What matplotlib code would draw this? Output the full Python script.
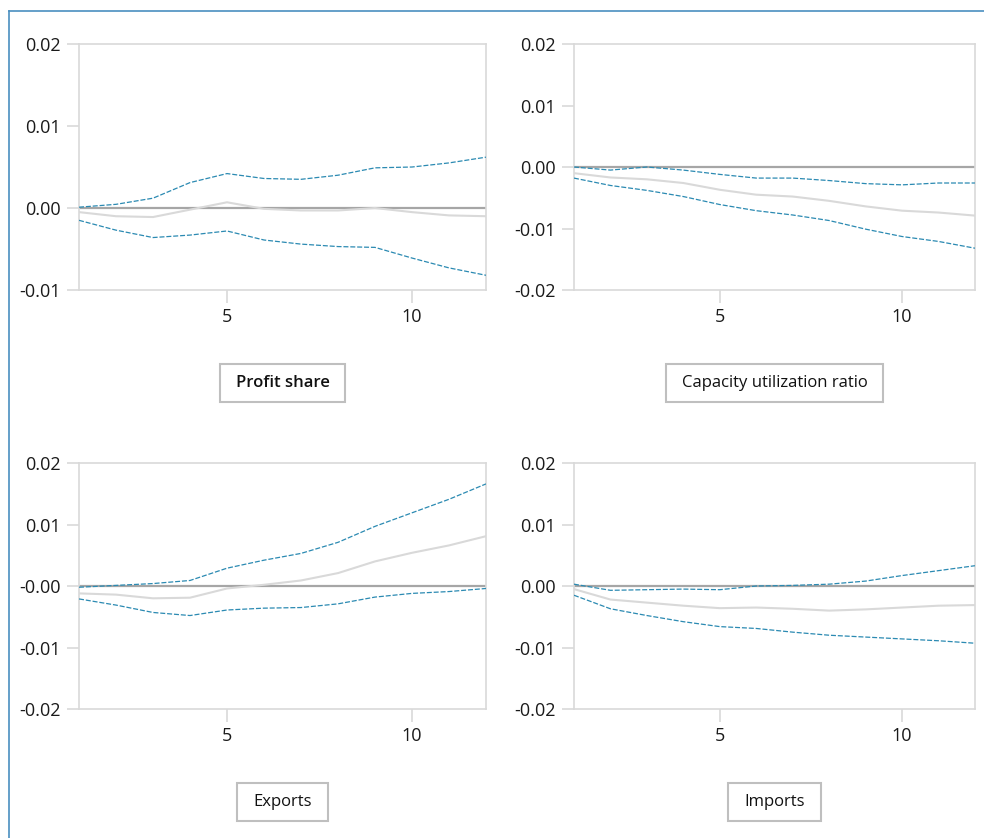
import numpy as np
import matplotlib.pyplot as plt
from matplotlib.lines import Line2D
from matplotlib.patches import Rectangle

plt.rcParams['font.family'] = ['Open Sans', 'DejaVu Sans']

# horizon (quarters)
periods = np.arange(1, 13)

# Profit share
profit_upper = [0.0001, 0.00045, 0.0012, 0.0031, 0.0042, 0.0036, 0.0035, 0.0040, 0.0049, 0.0050, 0.0055, 0.0062]
profit_mid = [-0.0005, -0.0010, -0.0011, -0.0002, 0.0007, -0.0001, -0.0003, -0.0003, 0.0000, -0.0005, -0.0009, -0.0010]
profit_lower = [-0.0015, -0.0027, -0.0036, -0.0033, -0.0028, -0.0039, -0.0044, -0.0047, -0.0048, -0.0061, -0.0073, -0.0082]

# Capacity utilization ratio
capu_upper = [0.0, -0.0005, 0.0, -0.0005, -0.0012, -0.0018, -0.0018, -0.0022, -0.0027, -0.0029, -0.0026, -0.0026]
capu_mid = [-0.0010, -0.0017, -0.0020, -0.0026, -0.0037, -0.0045, -0.0048, -0.0055, -0.0064, -0.0071, -0.0074, -0.0079]
capu_lower = [-0.0018, -0.0030, -0.0038, -0.0048, -0.0061, -0.0071, -0.0078, -0.0087, -0.0101, -0.0113, -0.0121, -0.0132]

# Exports
exp_upper = [-0.0002, 0.0001, 0.0004, 0.0009, 0.0029, 0.0042, 0.0053, 0.0071, 0.0097, 0.0119, 0.0141, 0.0166]
exp_mid = [-0.0012, -0.0014, -0.0020, -0.0019, -0.0004, 0.0002, 0.0009, 0.0021, 0.0040, 0.0054, 0.0066, 0.0081]
exp_lower = [-0.0021, -0.0031, -0.0043, -0.0048, -0.0039, -0.0036, -0.0035, -0.0029, -0.0018, -0.0012, -0.0009, -0.0004]

# Imports
imp_upper = [0.0003, -0.0007, -0.0006, -0.0005, -0.0006, 0.0000, 0.0001, 0.0003, 0.0008, 0.0017, 0.0025, 0.0033]
imp_mid = [-0.0005, -0.0022, -0.0027, -0.0032, -0.0036, -0.0035, -0.0037, -0.0040, -0.0038, -0.0035, -0.0032, -0.0031]
imp_lower = [-0.0015, -0.0037, -0.0048, -0.0058, -0.0066, -0.0069, -0.0075, -0.0080, -0.0083, -0.0086, -0.0089, -0.0093]

titles = ['Profit share', 'Capacity utilization ratio', 'Exports', 'Imports']
ticks_a = [0.02, 0.01, 0.0, -0.01]
labels_a = ['0.02', '0.01', '0.00', '-0.01']
ticks_b = [0.02, 0.01, 0.0, -0.01, -0.02]
labels_b = ['0.02', '0.01', '0.00', '-0.01', '-0.02']
labels_c = ['0.02', '0.01', '-0.00', '-0.01', '-0.02']

panels = [
    (profit_upper, profit_mid, profit_lower, ticks_a, labels_a),
    (capu_upper, capu_mid, capu_lower, ticks_b, labels_b),
    (exp_upper, exp_mid, exp_lower, ticks_b, labels_c),
    (imp_upper, imp_mid, imp_lower, ticks_b, labels_b),
]

# axes boxes in figure fractions
lefts = [0.0803, 0.5833, 0.0803, 0.5833]
widths = [0.4136, 0.4075, 0.4136, 0.4075]
bottoms = [0.6539, 0.6539, 0.1539, 0.1539]
height = 0.2936
label_y = [0.543, 0.543, 0.043, 0.043]

blue = '#2b8ab2'
spine_c = '#d9d9d9'
W, H = 984, 838

fig = plt.figure(figsize=(9.84, 8.38), dpi=100)

label_texts = []
for i, (up, mid, lo, ticks, tlabels) in enumerate(panels):
    ax = fig.add_axes([lefts[i], bottoms[i], widths[i], height])
    ax.axhline(0, color='#a6a6a6', lw=1.6, zorder=1)
    ax.plot(periods, mid, color='#d9d9d9', lw=1.5, zorder=2)
    ax.plot(periods, up, color=blue, lw=0.9, dashes=(4, 1.5), zorder=3)
    ax.plot(periods, lo, color=blue, lw=0.9, dashes=(4, 1.5), zorder=3)
    ax.set_xlim(1, 12)
    ax.set_ylim(min(ticks), max(ticks))
    ax.set_xticks([5, 10])
    ax.set_yticks(ticks)
    ax.set_yticklabels(tlabels)
    for s in ax.spines.values():
        s.set_color(spine_c)
        s.set_linewidth(1.2)
    ax.tick_params(axis='both', length=9, width=1.2, color=spine_c,
                   labelsize=13, labelcolor='#1a1a1a', pad=4)
    ax.tick_params(axis='x', pad=4)
    cx = lefts[i] + widths[i] / 2
    t = fig.text(cx, label_y[i], titles[i], ha='center', va='center', fontsize=12,
                 color='#111111', fontweight='semibold' if i == 0 else 'normal', zorder=5)
    label_texts.append(t)

# boxes around panel labels
fig.canvas.draw()
renderer = fig.canvas.get_renderer()
for t in label_texts:
    bb = t.get_window_extent(renderer)
    cx = (bb.x0 + bb.x1) / 2
    cy = (bb.y0 + bb.y1) / 2
    bw = bb.width + 32
    bh = 38
    fig.add_artist(Rectangle(((cx - bw / 2) / W, (cy - bh / 2) / H), bw / W, bh / H,
                             transform=fig.transFigure, fc='white', ec='#bfbfbf', lw=1.5, zorder=4))

# outer frame lines (top and left)
fig.add_artist(Line2D([9 / W, 9 / W], [0, 1 - 11 / H], color='#4a8fc0', lw=1.2))
fig.add_artist(Line2D([9 / W, 1], [1 - 11 / H, 1 - 11 / H], color='#4a8fc0', lw=1.2))

plt.savefig('out.png', dpi=100)
